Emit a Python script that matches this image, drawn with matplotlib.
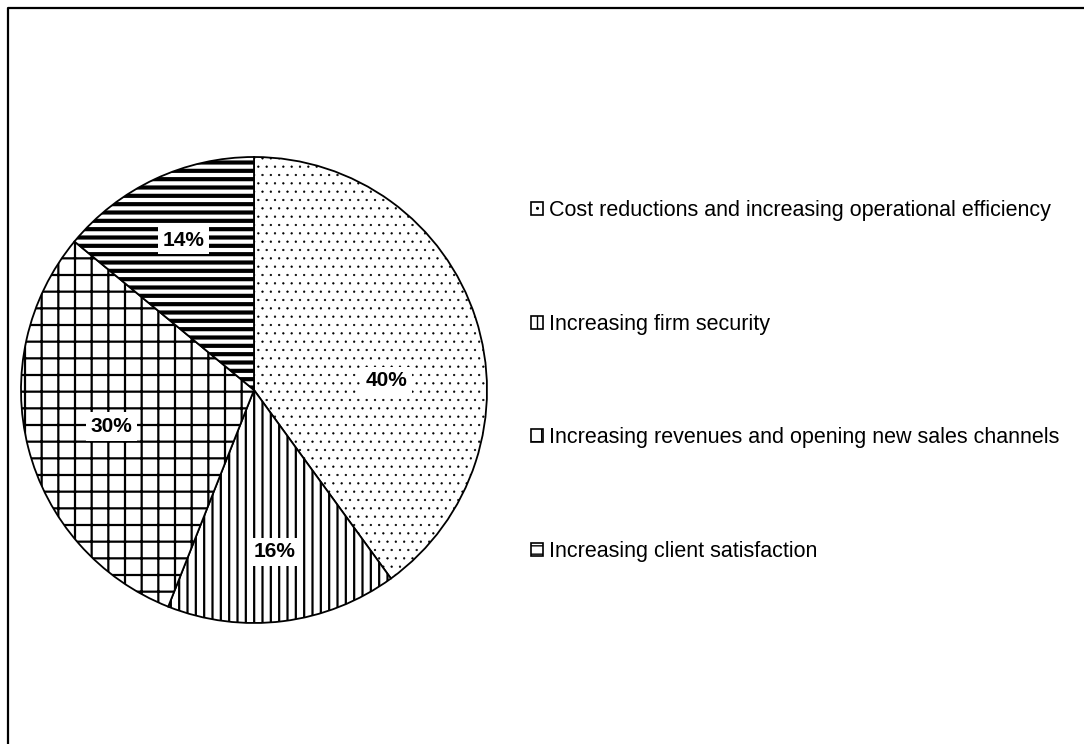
import numpy as np
import matplotlib
matplotlib.use("Agg")
import matplotlib.pyplot as plt
from matplotlib.patches import Patch
from matplotlib.lines import Line2D

plt.rcParams['font.family'] = ['Liberation Sans', 'DejaVu Sans']

categories = [
    "Cost reductions and increasing operational efficiency",
    "Increasing firm security",
    "Increasing revenues and opening new sales channels",
    "Increasing client satisfaction",
]
shares = [40, 16, 30, 14]
hatches = ['..', '||', '+', '--']

# label layout (radius fraction, angular shift from wedge middle in degrees)
label_radius = [0.57, 0.70, 0.63, 0.71]
label_shift = [-14, 0, 0, 0]

W, H = 1084, 744
fig = plt.figure(figsize=(W / 100, H / 100), dpi=100)
fig.patch.set_facecolor('white')

cx, cy, r = 254, 390, 233
ax = fig.add_axes([(cx - r) / W, (H - cy - r) / H, 2 * r / W, 2 * r / H])

wedges, texts, autotexts = ax.pie(
    shares, startangle=90, counterclock=False, radius=1,
    colors=['white'] * 4,
    wedgeprops=dict(edgecolor='black', linewidth=1.3),
    autopct='%d%%', pctdistance=0.64,
    textprops=dict(fontsize=15, fontweight='bold', color='black'),
)
ax.set_xlim(-1, 1)
ax.set_ylim(-1, 1)
ax.set_aspect('equal')
ax.axis('off')

for w, h in zip(wedges, hatches):
    w.set_hatch(h)
    if hasattr(w, 'set_hatch_linewidth'):
        w.set_hatch_linewidth({'..': 0.4, '--': 3.0}.get(h, 1.6))

for w, t, rad, sh in zip(wedges, autotexts, label_radius, label_shift):
    mid = np.deg2rad((w.theta1 + w.theta2) / 2 + sh)
    t.set_position((rad * np.cos(mid), rad * np.sin(mid)))
    t.set_bbox(dict(boxstyle='square,pad=0.22', facecolor='white', edgecolor='none'))

handles = [Patch(facecolor='white', edgecolor='black', hatch=h, linewidth=1.2) for h in hatches]
fs = 15.5
em = fs * 100 / 72
leg = fig.legend(handles, categories, loc='center left',
                 bbox_to_anchor=(531 / W, 1 - 381 / H),
                 frameon=False, fontsize=fs, borderpad=0, borderaxespad=0,
                 handlelength=12 / em, handleheight=12 / em,
                 handletextpad=6 / em, labelspacing=(114 - 1.0 * em) / em)

fig.add_artist(Line2D([7.5 / W, 7.5 / W, 1.0], [0.0, 1 - 7.5 / H, 1 - 7.5 / H],
                      transform=fig.transFigure, color='black', linewidth=1.6))

fig.savefig('out.png', dpi=100, facecolor='white')
